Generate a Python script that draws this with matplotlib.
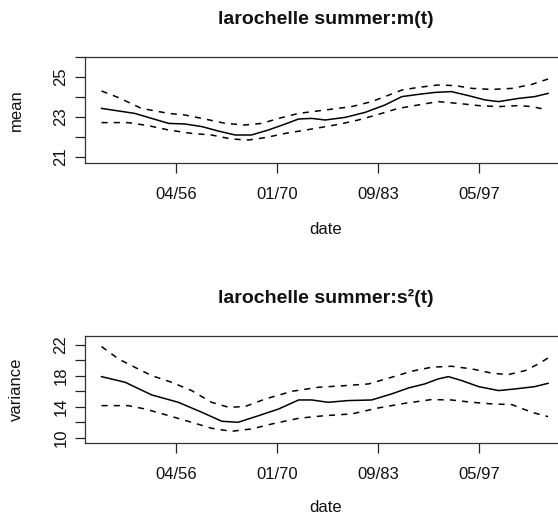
import matplotlib
matplotlib.use("Agg")
import matplotlib.pyplot as plt

plt.rcParams['font.family'] = ['Liberation Sans', 'DejaVu Sans']

# ---- data: panel 1 (mean) ----
m_years = [1946.2, 1950.7, 1955.3, 1957.5, 1959.8, 1962.0, 1964.3, 1966.5, 1968.8,
           1971.1, 1972.9, 1974.7, 1976.5, 1979.2, 1981.9, 1984.6, 1986.9, 1989.1,
           1991.4, 1993.6, 1995.9, 1998.2, 2000.0, 2002.7, 2004.9, 2006.7]
m_mean = [23.43, 23.18, 22.68, 22.65, 22.52, 22.30, 22.10, 22.10, 22.35,
          22.65, 22.90, 22.93, 22.85, 22.98, 23.23, 23.60, 24.02, 24.13,
          24.23, 24.27, 24.07, 23.85, 23.77, 23.93, 24.02, 24.18]
m_up_years = [1946.2, 1948.5, 1951.6, 1955.3, 1957.5, 1959.8, 1963.0, 1965.6, 1967.9,
              1970.2, 1972.9, 1976.5, 1980.1, 1982.8, 1984.6, 1986.9, 1989.1, 1991.8,
              1994.1, 1996.4, 1999.1, 2001.8, 2004.5, 2006.7]
m_up = [24.30, 23.97, 23.43, 23.18, 23.10, 22.93, 22.68, 22.60, 22.68,
        22.93, 23.18, 23.35, 23.52, 23.77, 24.02, 24.35, 24.48, 24.60,
        24.57, 24.43, 24.38, 24.43, 24.63, 24.90]
m_lo_years = [1946.2, 1949.8, 1952.5, 1955.3, 1958.4, 1961.1, 1963.8, 1966.1, 1968.4,
              1971.1, 1974.7, 1978.3, 1981.0, 1983.7, 1986.4, 1989.1, 1991.8, 1994.5,
              1997.3, 2000.0, 2002.7, 2004.5, 2006.3]
m_lo = [22.72, 22.72, 22.57, 22.35, 22.18, 22.10, 21.90, 21.85, 21.97,
        22.18, 22.40, 22.63, 22.85, 23.13, 23.43, 23.60, 23.77, 23.68,
        23.57, 23.52, 23.57, 23.52, 23.38]

# ---- data: panel 2 (variance) ----
v_years = [1946.2, 1949.4, 1953.0, 1956.6, 1959.8, 1962.5, 1964.7, 1967.5, 1970.2,
           1972.9, 1974.7, 1976.9, 1979.6, 1982.8, 1985.5, 1987.8, 1990.0, 1991.8,
           1993.2, 1995.0, 1997.3, 2000.0, 2002.2, 2004.9, 2006.7]
v_mean = [17.91, 17.18, 15.55, 14.60, 13.31, 12.15, 12.02, 12.88, 13.74,
          14.90, 14.90, 14.60, 14.82, 14.90, 15.68, 16.45, 16.97, 17.61,
          17.91, 17.40, 16.62, 16.11, 16.32, 16.62, 17.05]
v_up_years = [1946.2, 1948.5, 1950.7, 1953.0, 1955.7, 1958.4, 1961.1, 1963.4, 1965.6,
              1968.4, 1972.0, 1975.6, 1979.2, 1982.4, 1985.5, 1988.2, 1990.9, 1993.6,
              1996.4, 1999.1, 2001.3, 2003.6, 2005.4, 2006.7]
v_up = [21.79, 20.19, 19.12, 18.04, 17.18, 16.11, 14.60, 13.96, 14.04,
        15.03, 16.02, 16.54, 16.75, 16.97, 17.83, 18.60, 19.12, 19.25,
        18.90, 18.35, 18.17, 18.69, 19.55, 20.32]
v_lo_years = [1946.2, 1949.8, 1952.1, 1955.3, 1958.4, 1961.1, 1963.8, 1966.5, 1969.3,
              1972.9, 1976.5, 1980.1, 1983.7, 1987.3, 1990.9, 1993.6, 1996.4, 1999.1,
              2001.8, 2004.5, 2006.7]
v_lo = [14.17, 14.17, 13.74, 12.88, 12.02, 11.25, 10.86, 11.16, 11.81,
        12.54, 12.88, 13.10, 13.87, 14.47, 14.95, 14.90, 14.60, 14.39,
        14.30, 13.31, 12.75]

x_tick_pos = [1956.25, 1970.0, 1983.67, 1997.33]
x_tick_labels = ["04/56", "01/70", "09/83", "05/97"]
m_ticks = [21, 22, 23, 24, 25, 26]
m_tick_labels = ["21", "", "23", "", "25", ""]
v_ticks = [10, 12, 14, 16, 18, 20, 22]
v_tick_labels = ["10", "", "14", "", "18", "", "22"]

W, H = 558, 516
fig = plt.figure(figsize=(W / 100, H / 100), dpi=100)
LEFT, RIGHT = 85, 568
CENTER = 326


def make_axes(top_px, bottom_px):
    return fig.add_axes([LEFT / W, 1 - bottom_px / H,
                         (RIGHT - LEFT) / W, (bottom_px - top_px) / H])


def style(ax, top_px, bottom_px, title, title_y_px, xlabel_y_px,
          ylabel, yticks, yticklabels, ylim):
    h = bottom_px - top_px
    ax.set_xlim(1943.96, 2009.4)
    ax.set_ylim(*ylim)
    ax.set_xticks(x_tick_pos)
    ax.set_xticklabels(x_tick_labels)
    ax.set_yticks(yticks)
    ax.set_yticklabels(yticklabels, rotation=90, va='center')
    ax.tick_params(axis='both', direction='out', length=7.5, width=0.9,
                   color='#222222', labelsize=12, labelcolor='#111111')
    ax.tick_params(axis='x', pad=9.5)
    ax.tick_params(axis='y', pad=4.5)
    for s in ax.spines.values():
        s.set_linewidth(0.9)
        s.set_color('#333333')
    ax.text((CENTER - LEFT) / (RIGHT - LEFT), 1 + (top_px - title_y_px) / h, title,
            transform=ax.transAxes, ha='center', va='center',
            fontsize=14, fontweight='bold', color='#111111')
    ax.set_xlabel("date", fontsize=12, color='#111111')
    ax.xaxis.set_label_coords((CENTER - LEFT) / (RIGHT - LEFT), -(xlabel_y_px - bottom_px) / h)
    ax.xaxis.label.set_va('center')
    ax.set_ylabel(ylabel, fontsize=12, color='#111111')
    ax.yaxis.set_label_coords(-(LEFT - 16) / (RIGHT - LEFT), 0.5)
    ax.yaxis.label.set_va('center')


ax1 = make_axes(57, 163)
ax1.plot(m_years, m_mean, color='black', lw=1.1)
ax1.plot(m_up_years, m_up, color='black', lw=1.1, dashes=(4, 4))
ax1.plot(m_lo_years, m_lo, color='black', lw=1.1, dashes=(4, 4))
style(ax1, 57, 163, "larochelle summer:m(t)", 20, 230, "mean",
      m_ticks, m_tick_labels, (20.7, 26.0))

ax2 = make_axes(336, 443)
ax2.plot(v_years, v_mean, color='black', lw=1.1)
ax2.plot(v_up_years, v_up, color='black', lw=1.1, dashes=(4, 4))
ax2.plot(v_lo_years, v_lo, color='black', lw=1.1, dashes=(4, 4))
style(ax2, 336, 443, "larochelle summer:s\u00b2(t)", 298, 508, "variance",
      v_ticks, v_tick_labels, (9.35, 23.15))

fig.savefig("out.png", dpi=100)
